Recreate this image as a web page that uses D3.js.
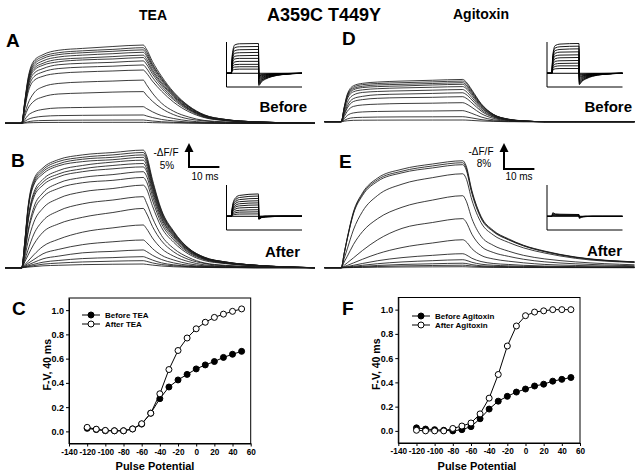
<!DOCTYPE html>
<html>
<head>
<meta charset="utf-8">
<script src="https://cdn.jsdelivr.net/npm/d3@7"></script>
<style>
  body { margin: 0; background: #fff; }
  svg { display: block; font-family: "Liberation Sans", Arial, sans-serif; }
  .trace { fill: none; stroke: #1a1a1a; stroke-width: 0.85px; }
  .axis path, .axis line { stroke: #000; stroke-width: 1px; }
  .axis text { font-size: 9px; font-weight: bold; fill: #000; }
  .axis.x text { font-size: 8.2px; }
</style>
</head>
<body>
<div id="chart"></div>
<script>
// Fluorescence traces: times (ms) after the pulse starts; holding level is 0 before t = 0
const holdTimes = [-5.5, 0];
const pulseTimes = [1, 2, 4, 7, 12, 20, 30, 40, 41, 43, 46, 50, 55, 60, 67, 77, 96.5];

// -dF/F (%) (TEA, before)
const tracesA = [
  [4.6, 9.1, 13.0, 14.3, 15.2, 15.6, 16.0, 16.3, 15.5, 12.9, 9.8, 6.5, 3.6, 1.8, 0.8, 0.3, 0],
  [4.4, 8.8, 12.6, 13.9, 14.7, 15.1, 15.4, 15.75, 15.0, 12.4, 9.45, 6.3, 3.5, 1.7, 0.8, 0.3, 0],
  [4.3, 8.6, 12.2, 13.5, 14.3, 14.7, 15.0, 15.3, 14.5, 12.1, 9.2, 6.1, 3.4, 1.7, 0.8, 0.3, 0],
  [4.1, 8.3, 11.8, 13.0, 13.8, 14.2, 14.5, 14.8, 14.1, 11.7, 8.9, 5.9, 3.3, 1.6, 0.7, 0.3, 0],
  [4.0, 8.0, 11.4, 12.5, 13.3, 13.6, 13.9, 14.2, 13.5, 11.2, 8.5, 5.7, 3.1, 1.6, 0.7, 0.3, 0],
  [3.8, 7.7, 11.0, 12.1, 12.8, 13.2, 13.4, 13.7, 13.0, 10.8, 8.2, 5.5, 3.0, 1.5, 0.7, 0.3, 0],
  [3.6, 7.3, 10.4, 11.4, 12.2, 12.5, 12.7, 13.0, 12.35, 10.3, 7.8, 5.2, 2.9, 1.4, 0.65, 0.26, 0],
  [3.4, 6.8, 9.7, 10.7, 11.4, 11.7, 11.9, 12.15, 11.5, 9.6, 7.3, 4.9, 2.7, 1.3, 0.6, 0.24, 0],
  [3.1, 6.2, 8.9, 9.8, 10.4, 10.7, 10.9, 11.1, 10.5, 8.8, 6.7, 4.4, 2.4, 1.2, 0.55, 0.2, 0],
  [2.0, 4.0, 6.3, 7.6, 8.3, 8.6, 8.8, 9.0, 8.1, 6.3, 4.2, 2.5, 1.3, 0.6, 0.3, 0.1, 0],
  [1.45, 3.0, 4.6, 5.5, 6.1, 6.3, 6.5, 6.6, 5.9, 4.6, 3.1, 1.8, 0.9, 0.5, 0.2, 0.1, 0],
  [0.76, 1.6, 2.4, 2.9, 3.2, 3.3, 3.4, 3.46, 3.1, 2.4, 1.6, 1.0, 0.5, 0.24, 0.1, 0, 0],
  [0.4, 0.8, 1.2, 1.45, 1.6, 1.66, 1.7, 1.73, 1.55, 1.2, 0.8, 0.5, 0.24, 0.12, 0.05, 0, 0],
  [0.15, 0.3, 0.5, 0.58, 0.63, 0.66, 0.68, 0.69, 0.62, 0.48, 0.32, 0.2, 0.1, 0.05, 0, 0, 0],
  [0.05, 0.1, 0.14, 0.17, 0.18, 0.19, 0.2, 0.2, 0.18, 0.14, 0.1, 0.06, 0.03, 0, 0, 0, 0]
];

// panel B (TEA, after)
const tracesB = [
  [5.4, 12.25, 18.4, 20.8, 22.5, 23.5, 24.0, 24.5, 23.5, 18.4, 12.0, 7.6, 4.0, 2.2, 1.2, 0.5, 0],
  [5.3, 12.0, 18.0, 20.4, 22.1, 23.0, 23.5, 24.0, 23.0, 18.0, 11.8, 7.4, 4.0, 2.2, 1.2, 0.5, 0],
  [5.2, 11.75, 17.6, 20.0, 21.6, 22.6, 23.0, 23.5, 22.6, 17.6, 11.5, 7.3, 3.9, 2.1, 1.2, 0.5, 0],
  [5.1, 11.5, 17.25, 19.55, 21.2, 22.1, 22.5, 23.0, 22.1, 17.25, 11.3, 7.1, 3.8, 2.1, 1.15, 0.5, 0],
  [4.3, 9.9, 15.7, 18.4, 20.2, 21.3, 22.0, 22.4, 21.5, 16.8, 11.0, 6.9, 3.7, 2.0, 1.1, 0.5, 0],
  [4.1, 9.5, 15.2, 17.8, 19.5, 20.6, 21.3, 21.7, 20.8, 16.3, 10.6, 6.7, 3.6, 2.0, 1.1, 0.5, 0],
  [4.0, 9.2, 14.7, 17.2, 18.9, 20.0, 20.6, 21.0, 20.2, 15.75, 10.3, 6.5, 3.5, 1.9, 1.0, 0.5, 0],
  [3.2, 7.4, 12.6, 15.6, 17.6, 18.8, 19.4, 20.0, 19.2, 15.0, 9.8, 6.2, 3.3, 1.8, 1.0, 0.4, 0],
  [3.0, 7.0, 11.8, 14.7, 16.5, 17.7, 18.2, 18.8, 18.0, 14.1, 9.2, 5.8, 3.1, 1.7, 0.9, 0.4, 0],
  [2.2, 5.2, 9.5, 12.4, 14.4, 15.8, 16.5, 17.2, 16.5, 12.9, 8.4, 5.3, 2.8, 1.5, 0.86, 0.4, 0],
  [1.6, 3.55, 7.0, 9.8, 11.8, 13.3, 14.1, 14.8, 13.6, 10.4, 6.7, 4.0, 2.1, 1.0, 0.5, 0.2, 0],
  [1.2, 2.5, 4.9, 7.4, 9.1, 10.5, 11.5, 12.35, 11.4, 8.6, 5.6, 3.3, 1.7, 0.9, 0.4, 0.2, 0],
  [0.6, 1.3, 2.7, 4.45, 5.9, 7.4, 8.3, 8.9, 8.2, 6.2, 4.0, 2.4, 1.25, 0.6, 0.3, 0.1, 0],
  [0.4, 0.87, 1.7, 2.9, 3.8, 4.8, 5.4, 5.77, 5.3, 4.0, 2.6, 1.6, 0.8, 0.4, 0.2, 0.1, 0],
  [0.26, 0.55, 1.1, 1.85, 2.4, 3.1, 3.4, 3.7, 3.4, 2.6, 1.7, 1.0, 0.5, 0.26, 0.13, 0, 0],
  [0.16, 0.35, 0.7, 1.15, 1.5, 1.9, 2.1, 2.3, 2.1, 1.6, 1.0, 0.6, 0.3, 0.16, 0.08, 0, 0],
  [0.1, 0.22, 0.44, 0.73, 0.96, 1.2, 1.36, 1.46, 1.34, 1.0, 0.66, 0.4, 0.2, 0.1, 0.05, 0, 0],
  [0.05, 0.12, 0.23, 0.39, 0.5, 0.64, 0.72, 0.77, 0.7, 0.54, 0.35, 0.2, 0.1, 0.05, 0, 0, 0]
];

// panel D (Agitoxin, before)
const tracesD = [
  [4.55, 8.45, 11.05, 11.8, 12.2, 12.5, 12.75, 13.0, 12.35, 9.75, 5.6, 2.3, 0.8, 0.26, 0, 0, 0],
  [4.4, 8.1, 10.6, 11.4, 11.75, 12.0, 12.25, 12.5, 11.9, 9.4, 5.4, 2.25, 0.75, 0.25, 0, 0, 0],
  [4.2, 7.8, 10.2, 10.9, 11.3, 11.5, 11.75, 12.0, 11.4, 9.0, 5.2, 2.2, 0.7, 0.24, 0, 0, 0],
  [4.0, 7.5, 9.8, 10.5, 10.8, 11.0, 11.3, 11.5, 10.9, 8.6, 4.9, 2.1, 0.7, 0.23, 0, 0, 0],
  [3.8, 7.0, 9.2, 9.8, 10.15, 10.4, 10.6, 10.8, 10.3, 8.1, 4.6, 1.9, 0.65, 0.2, 0, 0, 0],
  [3.0, 5.9, 8.2, 9.0, 9.3, 9.5, 9.7, 9.9, 9.4, 7.4, 4.3, 1.8, 0.6, 0.2, 0, 0, 0],
  [2.5, 4.9, 7.1, 7.8, 8.3, 8.5, 8.7, 8.9, 8.45, 6.7, 3.8, 1.6, 0.5, 0.18, 0, 0, 0],
  [2.2, 4.2, 6.2, 6.8, 7.2, 7.4, 7.5, 7.7, 7.3, 5.8, 3.3, 1.4, 0.46, 0.15, 0, 0, 0],
  [1.6, 3.2, 4.7, 5.15, 5.4, 5.6, 5.7, 5.85, 5.55, 4.4, 2.5, 1.05, 0.35, 0.1, 0, 0, 0],
  [0.95, 1.9, 2.7, 3.0, 3.15, 3.25, 3.3, 3.4, 3.2, 2.55, 1.46, 0.6, 0.2, 0.07, 0, 0, 0],
  [0.43, 0.85, 1.23, 1.35, 1.43, 1.48, 1.5, 1.54, 1.46, 1.15, 0.66, 0.28, 0.1, 0, 0, 0, 0],
  [0.15, 0.29, 0.42, 0.46, 0.48, 0.5, 0.51, 0.52, 0.5, 0.39, 0.22, 0.1, 0, 0, 0, 0, 0]
];

// panel E (Agitoxin, after)
const tracesE = [
  [4.6, 9.2, 17.1, 23.0, 27.6, 30.3, 31.9, 32.9, 31.6, 23.7, 15.8, 11.5, 8.9, 6.9, 5.1, 3.3, 1.8],
  [4.5, 9.0, 16.8, 22.6, 27.1, 29.7, 31.3, 32.3, 31.0, 23.3, 15.5, 11.3, 8.7, 6.8, 5.0, 3.2, 1.8],
  [4.4, 8.9, 16.5, 22.2, 26.6, 29.2, 30.7, 31.7, 30.4, 22.8, 15.2, 11.1, 8.6, 6.7, 4.9, 3.2, 1.7],
  [2.9, 5.8, 11.6, 17.3, 22.25, 25.7, 27.7, 28.9, 27.7, 20.8, 13.9, 10.1, 7.8, 6.1, 4.5, 2.9, 1.6],
  [1.8, 3.5, 7.1, 11.1, 15.1, 18.6, 20.8, 22.15, 20.8, 15.1, 9.7, 6.9, 5.1, 3.8, 2.7, 1.8, 0.9],
  [0.75, 1.5, 3.0, 5.3, 8.6, 12.1, 13.9, 15.1, 14.2, 10.3, 6.6, 4.7, 3.5, 2.6, 1.8, 1.2, 0.6],
  [0.34, 0.7, 1.46, 2.6, 4.3, 6.2, 7.6, 8.6, 8.1, 5.85, 3.8, 2.7, 2.0, 1.5, 1.0, 0.7, 0.34],
  [0.17, 0.34, 0.73, 1.3, 2.15, 3.1, 3.8, 4.3, 4.0, 2.9, 1.9, 1.3, 1.0, 0.73, 0.5, 0.34, 0.17],
  [0.1, 0.2, 0.42, 0.74, 1.23, 1.77, 2.16, 2.46, 2.3, 1.67, 1.08, 0.76, 0.57, 0.42, 0.3, 0.2, 0.1],
  [0.06, 0.11, 0.23, 0.41, 0.69, 0.99, 1.21, 1.38, 1.3, 0.94, 0.6, 0.43, 0.32, 0.23, 0.17, 0.1, 0.05],
  [0.03, 0.06, 0.13, 0.23, 0.38, 0.55, 0.68, 0.77, 0.72, 0.52, 0.34, 0.24, 0.18, 0.13, 0.09, 0.06, 0.03],
  [0.01, 0.02, 0.05, 0.09, 0.15, 0.22, 0.26, 0.3, 0.28, 0.2, 0.13, 0.09, 0.07, 0.05, 0.04, 0.02, 0.01]
];

// Inset current records (normalised), times in ms
const insetTimes = [-7, 0, 1.5, 5, 12, 40, 40.5, 44, 50, 60, 75, 104];
const insetA = [
  [0, 0, 0.62, 0.95, 0.99, 1.0, -0.41, -0.3, -0.2, -0.11, -0.045, 0],
  [0, 0, 0.56, 0.86, 0.89, 0.9, -0.37, -0.27, -0.18, -0.1, -0.04, 0],
  [0, 0, 0.5, 0.76, 0.79, 0.8, -0.33, -0.24, -0.16, -0.09, -0.036, 0],
  [0, 0, 0.43, 0.67, 0.69, 0.7, -0.29, -0.21, -0.14, -0.077, -0.03, 0],
  [0, 0, 0.37, 0.57, 0.59, 0.6, -0.25, -0.18, -0.12, -0.066, -0.027, 0],
  [0, 0, 0.31, 0.48, 0.5, 0.5, -0.2, -0.15, -0.1, -0.055, -0.022, 0],
  [0, 0, 0.25, 0.38, 0.4, 0.4, -0.16, -0.12, -0.08, -0.044, -0.018, 0],
  [0, 0, 0.19, 0.29, 0.3, 0.3, -0.12, -0.09, -0.06, -0.033, -0.013, 0],
  [0, 0, 0.14, 0.21, 0.22, 0.22, -0.09, -0.066, -0.044, -0.024, -0.01, 0],
  [0, 0, 0.09, 0.13, 0.14, 0.14, -0.057, -0.042, -0.028, -0.015, -0.006, 0]
];
const insetB = [
  [0, 0, 0.3, 0.58, 0.7, 0.75, -0.1, -0.05, -0.02, -0.01, 0, 0],
  [0, 0, 0.27, 0.52, 0.63, 0.68, -0.09, -0.045, -0.02, -0.01, 0, 0],
  [0, 0, 0.24, 0.46, 0.56, 0.6, -0.08, -0.04, -0.02, -0.01, 0, 0],
  [0, 0, 0.2, 0.4, 0.49, 0.52, -0.07, -0.035, -0.015, 0, 0, 0],
  [0, 0, 0.17, 0.34, 0.42, 0.45, -0.06, -0.03, -0.01, 0, 0, 0],
  [0, 0, 0.14, 0.29, 0.35, 0.38, -0.05, -0.025, -0.01, 0, 0, 0],
  [0, 0, 0.11, 0.23, 0.28, 0.3, -0.04, -0.02, 0, 0, 0, 0],
  [0, 0, 0.08, 0.17, 0.2, 0.22, -0.03, -0.015, 0, 0, 0, 0],
  [0, 0, 0.05, 0.11, 0.14, 0.15, -0.02, -0.01, 0, 0, 0, 0],
  [0, 0, 0.03, 0.06, 0.075, 0.08, -0.01, 0, 0, 0, 0, 0]
];
const insetD = [
  [0, 0, 0.6, 0.93, 0.98, 1.0, -0.38, -0.28, -0.19, -0.1, -0.04, 0],
  [0, 0, 0.55, 0.85, 0.89, 0.91, -0.35, -0.26, -0.17, -0.09, -0.037, 0],
  [0, 0, 0.49, 0.76, 0.8, 0.82, -0.31, -0.23, -0.15, -0.08, -0.033, 0],
  [0, 0, 0.44, 0.67, 0.71, 0.72, -0.27, -0.2, -0.13, -0.07, -0.029, 0],
  [0, 0, 0.38, 0.58, 0.61, 0.62, -0.23, -0.17, -0.11, -0.06, -0.025, 0],
  [0, 0, 0.32, 0.49, 0.52, 0.53, -0.19, -0.14, -0.09, -0.05, -0.02, 0],
  [0, 0, 0.26, 0.4, 0.42, 0.43, -0.15, -0.11, -0.07, -0.04, -0.016, 0],
  [0, 0, 0.2, 0.31, 0.33, 0.34, -0.12, -0.09, -0.06, -0.03, -0.012, 0],
  [0, 0, 0.15, 0.23, 0.25, 0.25, -0.08, -0.06, -0.04, -0.02, -0.008, 0],
  [0, 0, 0.1, 0.15, 0.16, 0.16, -0.05, -0.04, -0.025, -0.012, -0.005, 0]
];
const insetE = [
  [0, 0, 0.12, 0.08, 0.07, 0.06, -0.07, -0.03, -0.01, 0, 0, 0],
  [0, 0, 0.09, 0.06, 0.05, 0.05, -0.05, -0.02, -0.01, 0, 0, 0],
  [0, 0, 0.06, 0.04, 0.035, 0.035, -0.04, -0.015, 0, 0, 0, 0],
  [0, 0, 0.03, 0.02, 0.02, 0.02, -0.02, -0.01, 0, 0, 0, 0]
];

// F-V relations at 40 ms
const potentials = [-120, -110, -100, -90, -80, -70, -60, -50, -40, -30, -20, -10, 0, 10, 20, 30, 40, 50];
const fvBeforeTEA = [0.025, 0.015, 0.005, 0.005, 0.005, 0.02, 0.06, 0.15, 0.27, 0.366, 0.424, 0.47, 0.515, 0.548, 0.576, 0.61, 0.636, 0.66];
const fvAfterTEA = [0.033, 0.018, 0.008, 0.005, 0.005, 0.02, 0.063, 0.15, 0.31, 0.51, 0.667, 0.77, 0.846, 0.9, 0.94, 0.967, 0.99, 1.01];
const fvBeforeAgtx = [0.025, 0.015, 0.01, 0.005, 0.0, 0.01, 0.035, 0.1, 0.18, 0.245, 0.285, 0.32, 0.345, 0.37, 0.385, 0.41, 0.425, 0.44];
const fvAfterAgtx = [0.005, 0.0, 0.0, 0.0, 0.02, 0.04, 0.065, 0.14, 0.27, 0.465, 0.7, 0.865, 0.95, 0.98, 0.99, 1.0, 1.0, 1.0];

const xTicks = [-140, -120, -100, -80, -60, -40, -20, 0, 20, 40, 60];
const yTicks = [0, 0.2, 0.4, 0.6, 0.8, 1.0];

const W = 640, H = 474;
const svg = d3.select("#chart").append("svg").attr("width", W).attr("height", H);
svg.append("rect").attr("width", W).attr("height", H).attr("fill", "#fff");

function label(x, y, txt, size, anchor, weight) {
  return svg.append("text")
    .attr("x", x).attr("y", y)
    .attr("text-anchor", anchor || "start")
    .attr("font-size", size + "px")
    .attr("font-weight", weight || "bold")
    .text(txt);
}

// Titles
label(153, 20, "TEA", 14, "middle");
label(324, 21, "A359C T449Y", 18, "middle");
label(481, 19, "Agitoxin", 14, "middle");

// time scales for the two columns of traces
const tLeft = d3.scaleLinear().domain([-5.5, 96.5]).range([5, 315]);
const tRight = d3.scaleLinear().domain([-5.5, 96.5]).range([324.5, 634.5]);

function drawTraces(traces, x, y) {
  const line = d3.line().x(d => x(d[0])).y(d => y(d[1])).curve(d3.curveMonotoneX);
  const pts = v => holdTimes.map(t => [t, 0]).concat(pulseTimes.map((t, i) => [t, v[i]]));
  svg.append("g").selectAll("path")
    .data(traces)
    .join("path")
    .attr("class", "trace")
    .attr("d", v => line(pts(v)));
}

const yA = d3.scaleLinear().domain([0, 20]).range([123.3, 123.3 - 96]);
const yB = d3.scaleLinear().domain([0, 25]).range([267.7, 267.7 - 120]);
const yD = d3.scaleLinear().domain([0, 15]).range([121.7, 121.7 - 48.75]);
const yE = d3.scaleLinear().domain([0, 35]).range([267.7, 267.7 - 113.75]);

drawTraces(tracesA, tLeft, yA);
drawTraces(tracesB, tLeft, yB);
drawTraces(tracesD, tRight, yD);
drawTraces(tracesE, tRight, yE);

// small current insets
function drawInset(x0, bottom, traces) {
  const ix = d3.scaleLinear().domain([-7, 104]).range([x0, x0 + 75.5]);
  const iy = d3.scaleLinear().domain([-0.46, 1.05]).range([bottom, bottom - 45]);
  const g = svg.append("g").attr("stroke", "#000").attr("stroke-width", 1);
  g.append("line").attr("x1", ix(-7)).attr("x2", ix(-7)).attr("y1", iy(1.05)).attr("y2", iy(-0.46));
  g.append("line").attr("x1", ix(-7)).attr("x2", ix(104)).attr("y1", iy(-0.46)).attr("y2", iy(-0.46));
  g.append("line").attr("x1", ix(-7)).attr("x2", ix(104)).attr("y1", iy(0)).attr("y2", iy(0));
  const line = d3.line().x((d, i) => ix(insetTimes[i])).y(d => iy(d)).curve(d3.curveMonotoneX);
  g.selectAll("path")
    .data(traces)
    .join("path")
    .attr("fill", "none")
    .attr("stroke-width", 0.9)
    .attr("d", line);
}

drawInset(226.5, 87, insetA);
drawInset(226.5, 230, insetB);
drawInset(547, 87, insetD);
drawInset(547, 230, insetE);

label(307, 112, "Before", 15, "end");
label(632, 112, "Before", 15, "end");
label(300, 257, "After", 15, "end");
label(622, 256, "After", 15, "end");

// calibration bars
function scaleBar(x, yCorner, y, pct, tScale) {
  const len = y(0) - y(pct);
  const g = svg.append("g");
  g.append("line").attr("x1", x).attr("x2", x).attr("y1", yCorner).attr("y2", yCorner - len + 8)
    .attr("stroke", "#000").attr("stroke-width", 2);
  g.append("path")
    .attr("d", `M${x - 4.5},${yCorner - len + 9} L${x},${yCorner - len} L${x + 4.5},${yCorner - len + 9} Z`)
    .attr("fill", "#000");
  const w = tScale(10) - tScale(0);
  g.append("line").attr("x1", x - 1).attr("x2", x + w).attr("y1", yCorner).attr("y2", yCorner)
    .attr("stroke", "#000").attr("stroke-width", 2);
}

scaleBar(189, 167, yB, 5, tLeft);
label(166, 156, "-\u0394F/F", 10, "middle", "normal");
label(167, 168.5, "5%", 10, "middle", "normal");
label(205, 180, "10 ms", 10, "middle", "normal");

scaleBar(504, 169, yE, 8, tRight);
label(481, 155, "-\u0394F/F", 10, "middle", "normal");
label(484, 167, "8%", 10, "middle", "normal");
label(519, 180, "10 ms", 10, "middle", "normal");

// Panel letters
label(6, 47, "A", 19);
label(342, 45, "D", 19);
label(11, 167, "B", 19);
label(339, 168, "E", 19);
label(12, 315, "C", 19);
label(342, 315, "F", 19);

// F-V plots
function fvPlot(left, top, bottom, before, after, names, legendX, legendY, xLabelX) {
  const x = d3.scaleLinear().domain([-140, 60]).range([left, left + 181.7]);
  const y = d3.scaleLinear().domain([-0.1, 1.1]).range([bottom, top]);
  const g = svg.append("g");

  g.append("g").attr("class", "axis x")
    .attr("transform", `translate(0,${bottom})`)
    .call(d3.axisBottom(x).tickValues(xTicks).tickFormat(d => String(d))
      .tickSize(3).tickPadding(2.5).tickSizeOuter(0));
  g.append("g").attr("class", "axis")
    .attr("transform", `translate(${left},0)`)
    .call(d3.axisLeft(y).tickValues(yTicks).tickFormat(d3.format(".1f")).tickSize(3).tickPadding(2).tickSizeOuter(0));
  g.append("rect")
    .attr("x", left).attr("y", top)
    .attr("width", x(60) - left).attr("height", bottom - top)
    .attr("fill", "none").attr("stroke", "#000");

  const line = d3.line().x((d, i) => x(potentials[i])).y(d => y(d));
  [[before, "#000"], [after, "#fff"]].forEach(([vals, fill]) => {
    g.append("path").attr("d", line(vals)).attr("fill", "none").attr("stroke", "#000").attr("stroke-width", 1);
    g.selectAll(null).data(vals).join("circle")
      .attr("cx", (d, i) => x(potentials[i]))
      .attr("cy", d => y(d))
      .attr("r", 3)
      .attr("fill", fill)
      .attr("stroke", "#000")
      .attr("stroke-width", 1);
  });

  // legend
  [["#000", names[0]], ["#fff", names[1]]].forEach(([fill, name], i) => {
    const ly = legendY + i * 9;
    g.append("line").attr("x1", legendX).attr("x2", legendX + 18).attr("y1", ly).attr("y2", ly)
      .attr("stroke", "#000");
    g.append("circle").attr("cx", legendX + 9).attr("cy", ly).attr("r", 3)
      .attr("fill", fill).attr("stroke", "#000");
    g.append("text").attr("x", legendX + 23).attr("y", ly + 3)
      .attr("font-size", "8px").attr("font-weight", "bold").text(name);
  });

  g.append("text")
    .attr("transform", `translate(${left - 18},${(top + bottom) / 2 - 6}) rotate(-90)`)
    .attr("text-anchor", "middle")
    .attr("font-size", "10.5px").attr("font-weight", "bold")
    .text("F-V, 40 ms");
  g.append("text")
    .attr("x", xLabelX).attr("y", 470)
    .attr("text-anchor", "middle")
    .attr("font-size", "11px").attr("font-weight", "bold")
    .text("Pulse Potential");
}

fvPlot(69, 298, 443.5, fvBeforeTEA, fvAfterTEA, ["Before TEA", "After TEA"], 82, 315, 155);
fvPlot(398.3, 297.5, 443, fvBeforeAgtx, fvAfterAgtx, ["Before Agitoxin", "After Agitoxin"], 412, 316, 477);
</script>
</body>
</html>
